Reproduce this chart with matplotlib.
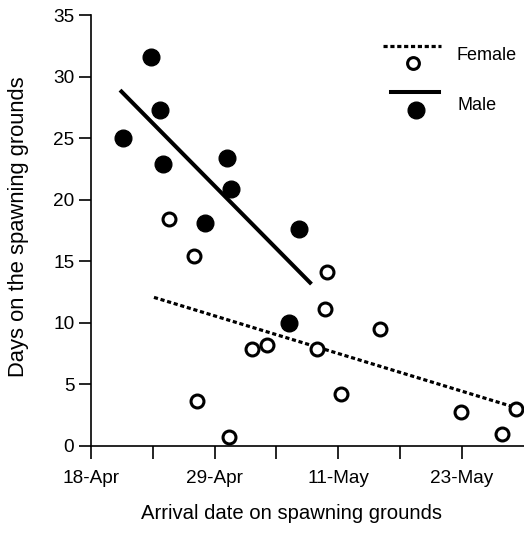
import numpy as np
import matplotlib
matplotlib.use("Agg")
import matplotlib.pyplot as plt

plt.rcParams["font.family"] = ["Liberation Sans", "DejaVu Sans"]

# arrival day (day of year) and days on spawning grounds
male_day = [111.05, 113.66, 114.54, 114.76, 118.75, 120.8, 121.24, 126.65, 127.65]
male_days_on = [25.0, 31.6, 27.25, 22.9, 18.1, 23.4, 20.9, 9.96, 17.6]

female_day = [115.36, 117.75, 118.03, 121.02, 123.16, 124.57, 129.35, 130.1,
              130.23, 131.6, 135.26, 142.9, 146.8, 148.1]
female_days_on = [18.4, 15.45, 3.63, 0.76, 7.87, 8.2, 7.85, 11.1,
                  14.1, 4.2, 9.47, 2.8, 0.97, 3.0]

# regression line ends
male_fit_x = [110.74, 128.8]
male_fit_y = [28.9, 13.15]
female_fit_x = [113.94, 147.8]
female_fit_y = [12.07, 3.19]

x_ticks = [108 + i * 35 / 6 for i in range(7)]
x_tick_labels = ["18-Apr", "", "29-Apr", "", "11-May", "", "23-May"]
y_ticks = [0, 5, 10, 15, 20, 25, 30, 35]

DOTS = (0, (1.3, 0.85))


def main():
    fig = plt.figure(figsize=(5.24, 5.34), dpi=100)
    ax = fig.add_axes([91 / 524, 88 / 534, 433 / 524, 431 / 534])

    ax.plot(male_fit_x, male_fit_y, color="black", lw=2.9, solid_capstyle="butt")
    ax.plot(female_fit_x, female_fit_y, color="black", lw=2.3, linestyle=DOTS)

    ax.plot(male_day, male_days_on, "o", ms=12, color="black", clip_on=False)
    ax.plot(female_day, female_days_on, "o", ms=9.3, mfc="white", mec="black",
            mew=2.2, clip_on=False)

    ax.set_xlim(108, 148.85)
    ax.set_ylim(0, 35)
    ax.set_xticks(x_ticks)
    ax.set_xticklabels(x_tick_labels)
    ax.set_yticks(y_ticks)

    for side in ["top", "right"]:
        ax.spines[side].set_visible(False)
    for side in ["left", "bottom"]:
        ax.spines[side].set_linewidth(1.2)

    ax.tick_params(axis="both", direction="out", length=9, width=1.2,
                   labelsize=13.7, colors="black")
    ax.tick_params(axis="x", pad=8)
    ax.tick_params(axis="y", pad=3)

    ax.set_xlabel("Arrival date on spawning grounds", fontsize=14.6)
    ax.set_ylabel("Days on the spawning grounds", fontsize=15.8)
    ax.xaxis.set_label_coords(0.464, -0.135)
    ax.yaxis.set_label_coords(-0.143, 0.508)

    # legend drawn by hand: line above the marker
    tr = ax.transAxes
    ax.plot([0.674, 0.808], [0.928, 0.928], color="black", lw=2.3,
            linestyle=DOTS, transform=tr, clip_on=False)
    ax.plot([0.744], [0.888], "o", ms=8.5, mfc="white", mec="black", mew=2.2,
            transform=tr, clip_on=False)
    ax.text(0.845, 0.905, "Female", fontsize=13, va="center", transform=tr)
    ax.plot([0.692, 0.804], [0.821, 0.821], color="black", lw=2.9,
            transform=tr, clip_on=False)
    ax.plot([0.75], [0.78], "o", ms=12, color="black", transform=tr,
            clip_on=False)
    ax.text(0.847, 0.791, "Male", fontsize=13, va="center", transform=tr)

    fig.savefig("out.png", dpi=100)
    plt.close(fig)


if __name__ == "__main__":
    main()
